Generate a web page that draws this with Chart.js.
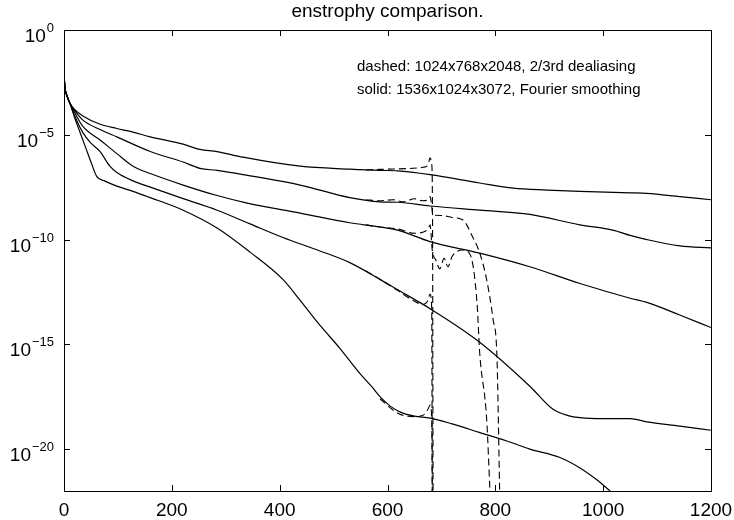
<!DOCTYPE html>
<html><head><meta charset="utf-8">
<script src="https://cdn.jsdelivr.net/npm/chart.js@4.4.1/dist/chart.umd.min.js"></script>
<style>html,body{margin:0;padding:0;background:#fff;}</style>
</head><body>
<canvas id="c" width="734" height="520"></canvas>
<script>
// ---- text / ticks ----
const titleText = 'enstrophy comparison.';
const noteLines = ['dashed: 1024x768x2048, 2/3rd dealiasing', 'solid: 1536x1024x3072, Fourier smoothing'];
const xTickValues = [0, 200, 400, 600, 800, 1000, 1200];
const yTickExponents = [0, -5, -10, -15, -20];

// ---- solid curves (time, log10 enstrophy) ----
const solid1T   = [0, 2, 5, 11, 20, 35, 67, 98, 128, 160, 221, 252, 284, 332, 438, 530, 586, 619, 679, 771, 833, 896, 957, 1050, 1081, 1142, 1200];
const solid1Log = [-2.15, -2.8, -3.1, -3.5, -3.8, -4.1, -4.5, -4.7, -4.87, -5.1, -5.45, -5.7, -5.8, -6.07, -6.5, -6.64, -6.7, -6.72, -6.9, -7.3, -7.55, -7.64, -7.7, -7.77, -7.8, -7.95, -8.1];

const solid2T   = [0, 2, 5, 11, 20, 35, 67, 98, 160, 221, 252, 284, 332, 438, 530, 586, 619, 679, 771, 864, 957, 1018, 1050, 1081, 1142, 1200];
const solid2Log = [-2.15, -2.8, -3.1, -3.5, -3.85, -4.3, -4.75, -5.1, -5.8, -6.3, -6.6, -6.7, -6.9, -7.4, -8.0, -8.2, -8.22, -8.4, -8.6, -8.8, -9.3, -9.55, -9.8, -10.0, -10.3, -10.4];

const solid3T   = [0, 2, 5, 11, 20, 35, 67, 98, 128, 160, 221, 284, 338, 438, 530, 586, 619, 679, 771, 864, 957, 1050, 1081, 1142, 1200];
const solid3Log = [-2.15, -2.8, -3.1, -3.5, -3.95, -4.6, -5.25, -5.9, -6.5, -6.85, -7.4, -7.9, -8.25, -8.74, -9.2, -9.4, -9.55, -10.1, -10.65, -11.3, -12.1, -12.8, -13.0, -13.6, -14.2];

const solid4T   = [0, 2, 5, 11, 20, 35, 50, 67, 85, 98, 128, 160, 221, 284, 345, 406, 470, 530, 586, 619, 679, 771, 864, 907, 935, 957, 1000, 1050, 1081, 1142, 1200];
const solid4Log = [-2.15, -2.8, -3.1, -3.5, -4.1, -4.9, -5.4, -5.8, -6.5, -6.8, -7.2, -7.5, -8.05, -8.6, -9.25, -9.9, -10.5, -11.1, -11.9, -12.4, -13.3, -14.9, -17.0, -18.1, -18.4, -18.5, -18.55, -18.55, -18.7, -18.9, -19.1];

const solid5T   = [0, 2, 5, 11, 20, 30, 40, 50, 61, 75, 98, 128, 160, 221, 284, 345, 406, 438, 475, 512, 549, 570, 586, 605, 625, 650, 679, 720, 770, 820, 864, 920, 957, 990, 1013];
const solid5Log = [-2.15, -2.8, -3.1, -3.5, -4.2, -4.9, -5.6, -6.3, -7.0, -7.2, -7.45, -7.7, -8.0, -8.6, -9.45, -10.6, -11.9, -12.9, -14.1, -15.2, -16.4, -17.0, -17.5, -17.95, -18.25, -18.43, -18.52, -18.8, -19.2, -19.6, -20.0, -20.4, -20.9, -21.5, -22.0];

// ---- dashed curves (lower resolution run), only where they leave the solid ones ----
const dashed1T   = [560, 586, 647, 666, 675, 679, 682, 683.5, 684.5];
const dashed1Log = [-6.68, -6.65, -6.6, -6.55, -6.45, -6.1, -6.4, -9, -22];

const dashed2T   = [560, 586, 610, 630, 650, 665, 675, 679, 682, 684, 700, 720, 740, 758, 771, 784, 796, 803, 808];
const dashed2Log = [-8.1, -8.15, -8.1, -8.2, -8.05, -8.15, -8.1, -7.95, -8.4, -8.83, -8.85, -8.95, -9.07, -9.88, -10.64, -11.93, -13.84, -15.6, -22];

const dashed3T   = [560, 586, 620, 650, 665, 675, 679, 683, 690, 697, 705, 712, 720, 740, 753, 766, 771, 784, 790];
const dashed3Log = [-9.3, -9.4, -9.5, -9.7, -9.65, -9.5, -9.3, -10.5, -11.0, -11.4, -10.9, -11.3, -10.8, -10.5, -10.7, -13.0, -15.4, -18.6, -22];

const dashed4T   = [560, 586, 620, 650, 665, 675, 679, 682, 683];
const dashed4Log = [-11.5, -11.9, -12.45, -12.95, -13.1, -12.9, -12.6, -13.3, -22];

const dashed5T   = [586, 620, 650, 665, 675, 679, 682, 683];
const dashed5Log = [-17.6, -18.3, -18.45, -18.4, -18.1, -17.9, -18.5, -22];

function toPoints(t, lg) { return t.map((x, i) => ({ x: x, y: Math.pow(10, lg[i]) })); }

const FONT = '"Liberation Sans", Arial, Helvetica, sans-serif';

function solidSet(t, lg) {
  return { data: toPoints(t, lg), borderColor: '#000', borderWidth: 1.2, pointRadius: 0,
           fill: false, cubicInterpolationMode: 'monotone' };
}
function dashedSet(t, lg) {
  return { data: toPoints(t, lg), borderColor: '#000', borderWidth: 1.1, pointRadius: 0,
           fill: false, borderDash: [7, 4], cubicInterpolationMode: 'monotone' };
}

const framePlugin = {
  id: 'frame',
  afterDraw(chart) {
    const ctx = chart.ctx, a = chart.chartArea;
    const xs = chart.scales.x, ys = chart.scales.y;
    ctx.save();
    ctx.strokeStyle = '#000'; ctx.lineWidth = 1;
    ctx.strokeRect(Math.round(a.left) + 0.5, Math.round(a.top) + 0.5, Math.round(a.right - a.left), Math.round(a.bottom - a.top));
    const tl = 6;
    ctx.beginPath();
    xTickValues.forEach(v => {
      const px = Math.round(xs.getPixelForValue(v)) + 0.5;
      ctx.moveTo(px, a.bottom); ctx.lineTo(px, a.bottom - tl);
      ctx.moveTo(px, a.top); ctx.lineTo(px, a.top + tl);
    });
    yTickExponents.forEach(e => {
      const py = Math.round(ys.getPixelForValue(Math.pow(10, e))) + 0.5;
      ctx.moveTo(a.left, py); ctx.lineTo(a.left + tl, py);
      ctx.moveTo(a.right, py); ctx.lineTo(a.right - tl, py);
    });
    ctx.stroke();
    // y tick labels with superscript exponents
    ctx.fillStyle = '#000';
    yTickExponents.forEach(e => {
      const py = ys.getPixelForValue(Math.pow(10, e));
      const expTxt = e === 0 ? '0' : '\u2212' + String(-e);
      ctx.font = '13px ' + FONT;
      const ew = ctx.measureText(expTxt).width;
      const right = a.left - 10;
      ctx.textAlign = 'left'; ctx.textBaseline = 'alphabetic';
      ctx.fillText(expTxt, right - ew, py + 2);
      ctx.font = '19px ' + FONT;
      ctx.textAlign = 'right';
      ctx.fillText('10', right - ew - 1, py + 12);
    });
    // annotation
    ctx.font = '15px ' + FONT;
    ctx.textAlign = 'left'; ctx.textBaseline = 'middle';
    noteLines.forEach((s, i) => ctx.fillText(s, 357, 67 + i * 23));
    ctx.restore();
  }
};

new Chart(document.getElementById('c'), {
  type: 'line',
  data: { datasets: [
    solidSet(solid1T, solid1Log), solidSet(solid2T, solid2Log), solidSet(solid3T, solid3Log),
    solidSet(solid4T, solid4Log), solidSet(solid5T, solid5Log),
    dashedSet(dashed1T, dashed1Log), dashedSet(dashed2T, dashed2Log), dashedSet(dashed3T, dashed3Log),
    dashedSet(dashed4T, dashed4Log), dashedSet(dashed5T, dashed5Log)
  ] },
  options: {
    responsive: false, animation: false, devicePixelRatio: 1,
    layout: { padding: { left: 0, right: 23, top: 0, bottom: 0 } },
    plugins: {
      legend: { display: false }, tooltip: { enabled: false },
      title: { display: true, text: titleText, fullSize: false, color: '#000',
               font: { family: FONT, size: 19, weight: 'normal', lineHeight: 1.2 }, padding: { top: 0, bottom: 7.2 } }
    },
    scales: {
      x: { type: 'linear', min: 0, max: 1200,
           afterBuildTicks: s => { s.ticks = xTickValues.map(v => ({ value: v })); },
           grid: { display: false, drawTicks: false }, border: { display: false },
           ticks: { color: '#000', font: { family: FONT, size: 19 }, padding: 8, maxRotation: 0, autoSkip: false,
                    callback: v => String(v) },
           afterFit: s => { s.height = 29; s.paddingLeft = 0; s.paddingRight = 0; } },
      y: { type: 'logarithmic', min: 1e-22, max: 1,
           afterBuildTicks: s => { s.ticks = yTickExponents.map(e => ({ value: Math.pow(10, e) })); },
           grid: { display: false, drawTicks: false }, border: { display: false },
           ticks: { display: false },
           afterFit: s => { s.width = 64; s.paddingTop = 0; s.paddingBottom = 0; } }
    }
  },
  plugins: [framePlugin]
});
</script>
</body></html>
